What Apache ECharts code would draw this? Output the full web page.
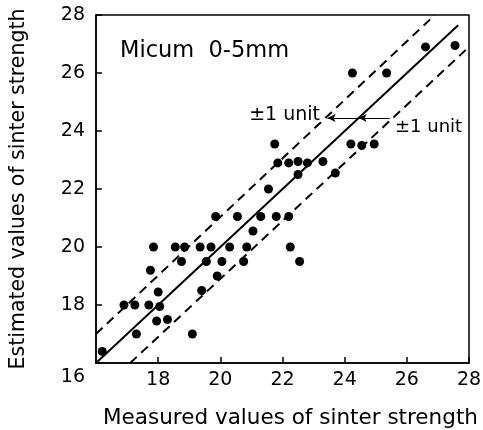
<!DOCTYPE html>
<html>
<head>
<meta charset="utf-8">
<script src="https://cdn.jsdelivr.net/npm/echarts@6/dist/echarts.min.js"></script>
<style>
  html, body { margin: 0; padding: 0; background: #fff; }
  #chart { width: 483px; height: 430px; }
</style>
</head>
<body>
<div id="chart"></div>
<script>
// measured / estimated sinter strength
var measured = [16.2, 16.9, 17.25, 17.3, 17.7, 17.75, 17.85, 18.0, 18.05, 17.95,
  18.3, 18.55, 18.75, 18.85, 19.1, 19.35, 19.4, 19.55, 19.7, 19.85,
  19.9, 20.05, 20.3, 20.55, 20.75, 20.85, 21.05, 21.3, 21.55, 21.8,
  22.2, 22.25, 22.55, 21.75, 21.85, 22.2, 22.5, 22.8, 23.3, 22.5,
  23.7, 24.25, 25.35, 24.2, 24.55, 24.95, 26.6, 27.55];
var estimated = [16.4, 18.0, 18.0, 17.0, 18.0, 19.2, 20.0, 18.45, 17.95, 17.45,
  17.5, 20.0, 19.5, 20.0, 17.0, 20.0, 18.5, 19.5, 20.0, 21.05,
  19.0, 19.5, 20.0, 21.05, 19.5, 20.0, 20.55, 21.05, 22.0, 21.05,
  21.05, 20.0, 19.5, 23.55, 22.9, 22.9, 22.95, 22.9, 22.95, 22.5,
  22.55, 26.0, 26.0, 23.55, 23.5, 23.55, 26.9, 26.95];

// y = x and the +-1 unit band
var fitLine = [[16, 16], [27.65, 27.65]];
var upperBand = [[16, 17], [26.9, 28]];
var lowerBand = [[17.1, 16], [28, 26.9]];
var arrowY = 24.45;
var arrowX = [23.45, 24.45, 25.45];

var axisTicks = [16, 18, 20, 22, 24, 26, 28];

var points = [];
for (var i = 0; i < measured.length; i++) {
  points.push([measured[i], estimated[i]]);
}

var font = 'DejaVu Sans';
var myChart = echarts.init(document.getElementById('chart'));

var option = {
  animation: false,
  grid: {
    left: 96, right: 14, top: 15, bottom: 67,
    outerBoundsMode: 'none', containLabel: false,
    show: true, borderColor: '#000', borderWidth: 1.5
  },
  xAxis: {
    type: 'value',
    min: axisTicks[0], max: axisTicks[axisTicks.length - 1], interval: 2,
    name: 'Measured values of sinter strength',
    nameLocation: 'middle', nameGap: 44,
    nameTextStyle: { fontFamily: font, fontSize: 21.5, color: '#000', padding: [0, 0, 0, 16] },
    axisLine: { show: true, lineStyle: { color: '#000', width: 1.5 } },
    axisTick: { inside: true, length: 6, lineStyle: { color: '#000', width: 1.5 } },
    axisLabel: { showMinLabel: false, margin: 8, fontFamily: font, fontSize: 19, color: '#000' },
    splitLine: { show: false }
  },
  yAxis: {
    type: 'value',
    min: axisTicks[0], max: axisTicks[axisTicks.length - 1], interval: 2,
    name: 'Estimated values of sinter strength',
    nameLocation: 'middle', nameGap: 67, nameRotate: 90,
    nameTextStyle: { fontFamily: font, fontSize: 20.5, color: '#000' },
    axisLine: { show: true, lineStyle: { color: '#000', width: 1.5 } },
    axisTick: { inside: true, length: 6, lineStyle: { color: '#000', width: 1.5 } },
    axisLabel: {
      margin: 11, fontFamily: font, fontSize: 19, color: '#000',
      formatter: function (v) {
        // corner label sits on the x label row
        return v === 16 ? '{lo|16}' : v;
      },
      rich: { lo: { fontFamily: font, fontSize: 19, color: '#000', padding: [28, 0, 0, 0] } }
    },
    splitLine: { show: false }
  },
  graphic: [
    { type: 'text', left: 120, top: 40, style: { text: 'Micum  0-5mm', font: '22.5px ' + font, fill: '#000' } },
    { type: 'text', right: 163, top: 106, style: { text: '±1 unit', font: '19px ' + font, fill: '#000' } },
    { type: 'text', left: 395, top: 118, style: { text: '±1 unit', font: '18px ' + font, fill: '#000' } }
  ],
  series: [
    {
      type: 'scatter', data: points, symbolSize: 9,
      itemStyle: { color: '#000', opacity: 1 }, z: 5
    },
    {
      type: 'line', data: fitLine, symbol: 'none',
      lineStyle: { color: '#000', width: 2 }
    },
    {
      type: 'line', data: upperBand, symbol: 'none',
      lineStyle: { color: '#000', width: 2, type: [9, 6] }
    },
    {
      type: 'line', data: lowerBand, symbol: 'none',
      lineStyle: { color: '#000', width: 2, type: [9, 6] },
      markLine: {
        silent: true,
        symbol: ['none', 'arrow'],
        symbolSize: [6, 8],
        label: { show: false },
        lineStyle: { color: '#000', width: 1, type: 'solid' },
        data: [
          [{ coord: [arrowX[1], arrowY] }, { coord: [arrowX[0], arrowY] }],
          [{ coord: [arrowX[2], arrowY] }, { coord: [arrowX[1], arrowY] }]
        ]
      }
    }
  ]
};

myChart.setOption(option);
</script>
</body>
</html>
